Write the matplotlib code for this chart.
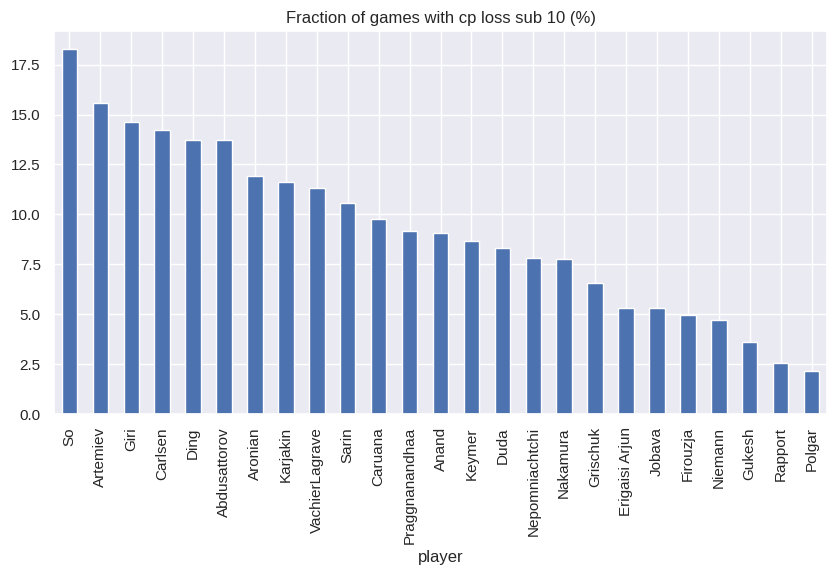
import matplotlib
matplotlib.use("Agg")
import matplotlib.pyplot as plt
import seaborn as sns

players = ["So", "Artemiev", "Giri", "Carlsen", "Ding", "Abdusattorov", "Aronian",
           "Karjakin", "VachierLagrave", "Sarin", "Caruana", "Praggnanandhaa", "Anand",
           "Keymer", "Duda", "Nepomniachtchi", "Nakamura", "Grischuk", "Erigaisi Arjun",
           "Jobava", "Firouzja", "Niemann", "Gukesh", "Rapport", "Polgar"]
sub10_pct = [18.27, 15.6, 14.65, 14.2, 13.72, 13.72, 11.92, 11.62, 11.32, 10.57,
             9.78, 9.17, 9.07, 8.68, 8.33, 7.83, 7.78, 6.54, 5.29, 5.29, 4.94,
             4.69, 3.6, 2.56, 2.16]

sns.set_theme()
plt.rcParams["font.family"] = ["Liberation Sans", "DejaVu Sans"]

fig = plt.figure(figsize=(8.38, 5.76), dpi=100)
ax = fig.add_axes([54 / 838, 1 - 414 / 576, 773 / 838, 383 / 576])

pos = list(range(len(players)))
ax.bar(pos, sub10_pct, width=0.5, color="#4C72B0", edgecolor="white", linewidth=1)
ax.set_xlim(-0.5, len(players) - 0.5)
ax.set_xticks(pos)
ax.set_xticklabels(players, rotation=90)
ax.set_xlabel("player")
ax.set_title("Fraction of games with cp loss sub 10 (%)")

fig.savefig("out.png", dpi=100)
